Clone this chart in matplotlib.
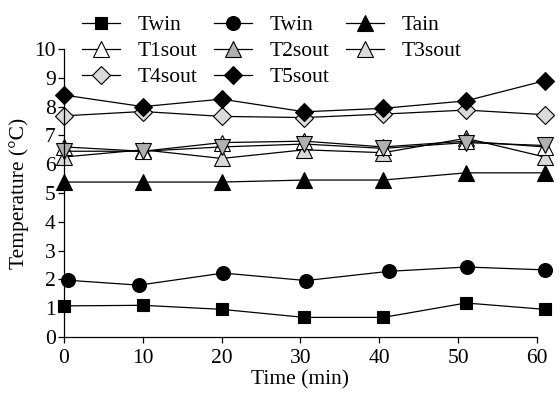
import matplotlib
matplotlib.use("Agg")
import matplotlib.pyplot as plt
from matplotlib.lines import Line2D

plt.rcParams["font.family"] = ["Liberation Serif", "DejaVu Serif"]
plt.rcParams["font.size"] = 15.5

# time points (min)
time = [0, 10, 20, 30.5, 40.5, 51, 61]
time_circ = [0.5, 9.5, 20.2, 30.7, 41.2, 51.1, 61]

twin_sq = [1.08, 1.1, 0.96, 0.68, 0.68, 1.18, 0.96]
twin_circ = [1.97, 1.8, 2.22, 1.96, 2.28, 2.43, 2.33]
tain = [5.38, 5.38, 5.38, 5.45, 5.45, 5.7, 5.7]
t1sout = [6.6, 6.45, 6.75, 6.8, 6.6, 6.8, 6.6]
t2sout = [6.45, 6.45, 6.6, 6.7, 6.55, 6.75, 6.65]
t3sout = [6.25, 6.5, 6.2, 6.5, 6.4, 6.9, 6.25]
t4sout = [7.68, 7.83, 7.66, 7.62, 7.74, 7.88, 7.72]
t5sout = [8.4, 8.0, 8.26, 7.82, 7.94, 8.2, 8.9]

fig = plt.figure(figsize=(5.59, 3.94), dpi=100)
ax = fig.add_axes([0.1145, 0.1447, 0.846, 0.7309])

lw = 0.9
common = dict(color="black", linewidth=lw, markeredgecolor="black",
              markeredgewidth=0.8, clip_on=False)

ax.plot(time, twin_sq, marker="s", ms=8, markerfacecolor="black", **common)
ax.plot(time_circ, twin_circ, marker="o", ms=10, markerfacecolor="black", **common)
ax.plot(time, tain, marker="^", ms=11, markerfacecolor="black", **common)
ax.plot(time, t3sout, marker="^", ms=11, markerfacecolor="#dadada", **common)
ax.plot(time, t1sout, marker="^", ms=11, markerfacecolor="white", **common)
ax.plot(time, t2sout, marker="v", ms=11, markerfacecolor="#b0b0b0", **common)
ax.plot(time, t4sout, marker="D", ms=9, markerfacecolor="#dadada", **common)
ax.plot(time, t5sout, marker="D", ms=9, markerfacecolor="black", **common)

ax.set_xlim(0, 60)
ax.set_ylim(0, 10)
ax.set_xticks(range(0, 61, 10))
ax.set_yticks(range(0, 11))
ax.spines["top"].set_visible(False)
ax.spines["right"].set_visible(False)
for s in ["left", "bottom"]:
    ax.spines[s].set_linewidth(0.9)
ax.tick_params(direction="out", length=4, width=0.9, pad=2)
ax.tick_params(axis="x", pad=5)
ax.set_xlabel("Time (min)", labelpad=1)
ax.set_ylabel("Temperature (°C)", labelpad=4)

def h(marker, fc, ms):
    return Line2D([], [], color="black", linewidth=lw, marker=marker, ms=ms,
                  markerfacecolor=fc, markeredgecolor="black", markeredgewidth=0.8)

handles = [h("s", "black", 8), h("^", "white", 11), h("D", "#dadada", 9),
           h("o", "black", 10), h("^", "#b0b0b0", 11), h("D", "black", 9),
           h("^", "black", 11), h("^", "#dadada", 11)]
labels = ["Twin", "T1sout", "T4sout", "Twin", "T2sout", "T5sout", "Tain", "T3sout"]
fig.legend(handles, labels, ncol=3, loc="upper left", bbox_to_anchor=(0.136, 0.978),
           frameon=False, handlelength=1.75, handletextpad=0.8, columnspacing=0.8,
           labelspacing=0.28, borderaxespad=0.0, borderpad=0.3)

fig.savefig("out.png", dpi=100)
